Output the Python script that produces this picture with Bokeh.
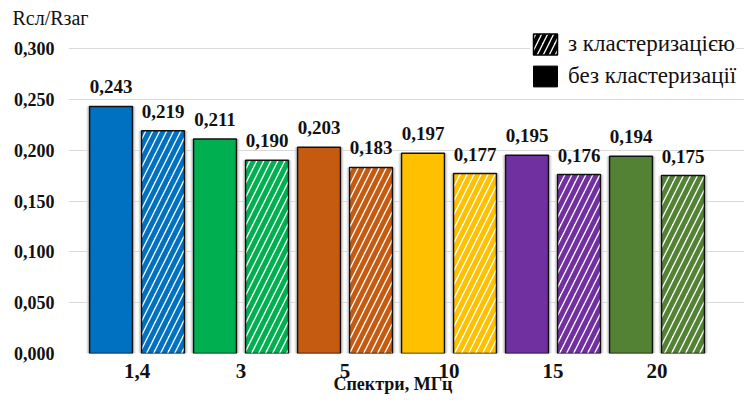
from bokeh.plotting import figure
from bokeh.models import (ColumnDataSource, FixedTicker, Range1d, Legend, LegendItem)
from bokeh.core.properties import value
from bokeh.embed import file_html
from bokeh.resources import INLINE

# ---- data ----
categories = ["1,4", "3", "5", "10", "15", "20"]
without_clust = [0.243, 0.211, 0.203, 0.197, 0.195, 0.194]
with_clust = [0.219, 0.190, 0.183, 0.177, 0.176, 0.175]
colors = ["#0070C0", "#00B050", "#C55A11", "#FFC000", "#7030A0", "#548235"]
y_ticks = [0.0, 0.05, 0.10, 0.15, 0.20, 0.25, 0.30]
legend_labels = ["з кластеризацією", "без кластеризації"]
x_title = "Спектри, МГц"
y_title = "Rсл/Rзаг"

SERIF = "Liberation Serif"
W = 0.413
OFF = 0.25

xs = list(range(len(categories)))
solid_src = ColumnDataSource(dict(
    x=[i - OFF for i in xs], top=without_clust, color=colors,
    lbl=[f"{v:.3f}".replace(".", ",") for v in without_clust]))
hatch_src = ColumnDataSource(dict(
    x=[i + OFF for i in xs], top=with_clust, color=colors,
    lbl=[f"{v:.3f}".replace(".", ",") for v in with_clust]))

p = figure(width=744, height=402, output_backend="svg", toolbar_location=None,
           x_range=Range1d(-0.6587, 5.8413), y_range=Range1d(0, 0.3197),
           min_border_left=68, min_border_right=0, min_border_top=28, min_border_bottom=49)
p.outline_line_color = None
p.background_fill_color = "white"
p.border_fill_color = "white"

# y-axis title as a left-aligned plot title
p.title.text = y_title
p.title.align = "left"
p.title.offset = -56
p.title.standoff = 0
p.title.text_font = SERIF
p.title.text_font_style = "normal"
p.title.text_font_size = "20px"
p.title.text_color = "#111111"

# shadows
for src in (solid_src, hatch_src):
    p.vbar(x="x", top="top", width=W + 0.055, source=src, fill_color="#d4d4d4",
           line_color=None, fill_alpha=0.8)

p.vbar(x="x", top="top", width=W, source=solid_src, fill_color="color",
       line_color="#111111", line_width=1.5)
p.vbar(x="x", top="top", width=W, source=hatch_src, fill_color="white",
       hatch_pattern="/", hatch_color="color", hatch_scale=14, hatch_weight=5,
       line_color="#111111", line_width=1.5)

for src in (solid_src, hatch_src):
    p.text(x="x", y="top", text="lbl", source=src, text_align="center",
           text_baseline="bottom", y_offset=-13, text_font=value(SERIF),
           text_font_style="bold", text_font_size="19px", text_color="#111111")

# axes
p.xgrid.grid_line_color = None
p.ygrid.grid_line_color = "#d9d9d9"
p.ygrid.ticker = FixedTicker(ticks=y_ticks)
p.yaxis.ticker = FixedTicker(ticks=y_ticks)
p.yaxis.major_label_overrides = {t: f"{t:.3f}".replace(".", ",") for t in y_ticks}
p.xaxis.ticker = FixedTicker(ticks=xs)
p.xaxis.major_label_overrides = {i: c for i, c in zip(xs, categories)}
for ax in (p.xaxis, p.yaxis):
    ax.axis_line_color = None
    ax.major_tick_line_color = None
    ax.minor_tick_line_color = None
    ax.major_label_text_font = SERIF
    ax.major_label_text_font_style = "bold"
    ax.major_label_text_color = "#111111"
p.yaxis.major_label_text_font_size = "18px"
p.yaxis.major_label_standoff = 8
p.xaxis.major_label_text_font_size = "21px"
p.xaxis.major_label_standoff = 4
# trailing no-break spaces shift the centred title left to sit under the bars
p.xaxis.axis_label = x_title + "\u00a0" * 6
p.xaxis.axis_label_text_font = SERIF
p.xaxis.axis_label_text_font_style = "bold"
p.xaxis.axis_label_text_font_size = "18px"
p.xaxis.axis_label_text_color = "#111111"
p.xaxis.axis_label_standoff = -7

# legend (dummy hidden renderers)
r_h = p.vbar(x=[2.5], top=[0.1], width=W, fill_color="white", hatch_pattern="/",
             hatch_color="black", hatch_scale=12, hatch_weight=4, line_color="black",
             line_width=1.5, visible=False)
r_s = p.vbar(x=[2.5], top=[0.1], width=W, fill_color="black", line_color="black",
             visible=False)
legend = Legend(items=[LegendItem(label=legend_labels[0], renderers=[r_h]),
                       LegendItem(label=legend_labels[1], renderers=[r_s])],
                location=(462, 264), glyph_width=30, glyph_height=26, spacing=6,
                label_text_font=SERIF, label_text_font_size="23px", label_standoff=8,
                label_text_color="#111111", background_fill_color="white",
                background_fill_alpha=1, inactive_fill_alpha=0,
                border_line_color=None, padding=2, margin=0)
p.add_layout(legend, "center")

open("out.html", "w").write(file_html(p, INLINE))
